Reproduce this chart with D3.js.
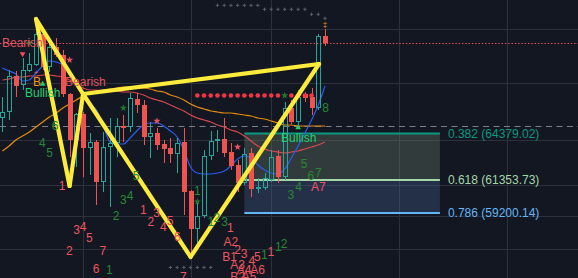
<!DOCTYPE html>
<html><head><meta charset="utf-8">
<script src="https://cdn.jsdelivr.net/npm/d3@7"></script>
<style>
html,body{margin:0;padding:0;background:#131722;overflow:hidden}
svg{display:block}
text{font-family:"Liberation Sans",Arial,sans-serif}
</style></head><body>
<svg id="c" width="578" height="278"></svg>
<script>
// ---- data ----
const opens=[65400,65790,68140,67550,68460,68850,70870,68720,70030,69500,66960,63960,65660,63440,63830,61220,63510,63770,64870,64810,66640,66240,64160,64420,63700,63440,63050,63830,60640,58160,59010,62920,63900,64030,63180,62330,61160,63110,60770,60830,61350,62920,61550,66050,65140,66960,66770,66050,70740];
const highs=[66770,68530,68460,69310,69630,71130,71130,70610,70610,69830,67030,65720,65790,64420,63960,64480,65400,65400,65590,67030,67030,66570,65140,64740,63960,64090,64090,64740,60700,60050,63310,64550,64610,65400,63770,62660,63440,63440,61480,61810,63310,63310,66440,66570,67220,67090,67350,70870,71200];
const lows=[64480,65270,66770,67220,68400,68790,68530,68400,69370,66770,62850,62200,61550,61680,59720,60570,59590,62850,63830,64480,65720,63640,62790,63310,62460,62460,61810,59070,56400,56790,58880,62660,63180,62850,62010,60570,61030,60250,60510,60700,61220,61160,61350,65010,64940,66440,65590,65920,70090];
const closes=[65790,68140,67480,68530,68920,70870,68720,70030,69500,66960,63960,65660,63440,63830,61220,63510,63770,64870,64740,66700,66240,64160,64420,63640,63380,63050,63770,60570,58160,59010,62920,63900,64030,63110,62270,61160,63050,60770,60900,61480,62850,61550,66050,65140,66770,66700,66050,70740,70290];
const maFast=[68656,68461,68265,67809,67874,68330,68787,69113,69048,68852,68330,67613,66896,66309,65918,64940,63832,63701,63701,64092,64549,64940,65070,65070,64875,64549,64158,63310,62201,61810,61745,61745,61810,61941,62267,62723,62919,62788,62332,62006,61810,61745,62071,62788,63571,64418,65266,66244,67483];
const maMid=[67874,67939,68070,68070,68135,68135,68200,68200,68135,68070,67874,67613,67352,67222,67222,67157,67157,67157,67092,67092,67026,66896,66700,66570,66440,66244,66048,65853,65592,65396,65266,65136,64940,64810,64614,64484,64223,63897,63571,63375,63245,63180,63114,63180,63245,63375,63506,63636,63832];
const maSlow=[63245,63571,63962,64223,64484,64810,65136,65462,65722,66048,66309,66570,66831,67026,67157,67222,67287,67352,67417,67417,67352,67352,67287,67157,67092,66896,66766,66570,66309,66114,65983,65853,65788,65722,65722,65657,65592,65527,65396,65331,65201,65070,64940,64940,64875,64875,64875,64875,64875];
// harmonic pattern X A B C D (candle index, price)
const patIdx=[5,10,12,28,47.1];
const patPrice=[71851,60963,66961,56334,68917];
const patLegs=[[0,1],[1,2],[2,3],[3,4],[0,2],[2,4]];
// fibonacci
const fibRatios=["0.382","0.618","0.786"];
const fibPrices=[64379.02,61353.73,59200.14];
const fibStart=36, fibEnd=65.1;
// grid
const gridPrices=[71199,67678,63962,61028,59007,56855];
const gridIdx=[12,28.07,39.97,59,75.1];
const lastPrice=70290, pivotPrice=64875;
// markers
const dotIdx=[29,30,31,32,33,34,35,36,37,38,39,40,41,43,44,45,46];
const dotPrice=66863;
const plusIdx=[32,33,34,35,36,37,38,39,40,41,42,43,44,45,46,47,48,25,26,27,28,29,30,31];
const plusPrice=[72744,72744,72744,72744,72744,72744,72744,72484,72484,72484,72484,72484,72484,72484,72158,72158,71897,55649,55649,55649,55649,55649,55649,55649];
const redStarIdx=[10,23,35], redStarPrice=[69178,65201,63506];
const greenStarIdx=[4,18,29,42], greenStarPrice=[70286,66048,59939,66863];
const downTriIdx=[3], downTriPrice=[69569];
const upTriIdx=[6,44], upTriPrice=[67613,64777];
// signal labels
const signalText=["Bearish","B","Bullish","Bearish","Bullish"];
const signalIdx=[-0.06,4.55,3.36,9.32,41.46];
const signalPrice=[70286,67776,66994,67711,64092];
// count labels
const greenText=["6","4","5","5","3","4","2","1","1","1","2","3","3","4","5","6","7","8","1","1","2"];
const greenIdx=[7.83,5.95,7.01,19.9,18.0,19.0,16.9,15.9,29.0,31.0,31.9,33.05,42.9,44.06,44.9,45.9,47.0,48.1,38.97,41.06,41.9];
const greenPrice=[64875,63766,63114,61615,60050,60280,59007,55486,60637,58612,58876,58612,60376,60917,62377,61634,61830,66029,56464,56953,57181];
const redText=["1","3","4","5","2","7","6","1","2","3","4","5","6","7","1","A2","2","B1","3","A3","4","5","A4","A6","B2","A5","1","A7"];
const redIdx=[8.87,11.03,12.0,12.93,9.96,14.93,13.93,20.97,22.07,22.96,23.94,24.94,26.03,26.92,33.91,34.0,34.99,33.8,35.95,34.99,37.1,37.93,35.95,37.96,34.99,36.7,39.93,47.0];
const redPrice=[60930,58094,58290,57553,56744,56744,55532,59398,58616,59203,58290,58681,57657,55030,58205,57292,56790,56353,56529,55812,56073,56353,55486,55486,55030,55030,56679,60917];

// ---- scales ----
const W=578,H=278;
const svg=d3.select("#c");
const x=d3.scaleLinear().domain([0,48]).range([2.4,325]);
const y=d3.scaleLinear().domain([55000,73000]).range([277.4,1.4]);
const px=v=>Math.round(v)+0.5;

// grid
const grid=svg.append("g").attr("stroke","#2d313c").attr("stroke-width",1).attr("shape-rendering","crispEdges");
gridPrices.forEach(p=>grid.append("line").attr("x1",0).attr("x2",W).attr("y1",px(y(p))).attr("y2",px(y(p))));
gridIdx.forEach(i=>grid.append("line").attr("y1",0).attr("y2",H).attr("x1",px(x(i))).attr("x2",px(x(i))));

// fib box
const fx0=x(fibStart), fx1=x(fibEnd);
const bandFill=["rgba(112,128,108,0.34)","rgba(70,102,152,0.32)"];
for(let k=0;k<2;k++){
  svg.append("rect").attr("x",fx0).attr("width",fx1-fx0)
    .attr("y",y(fibPrices[k])).attr("height",y(fibPrices[k+1])-y(fibPrices[k]))
    .attr("fill",bandFill[k]);
}
// price lines
svg.append("line").attr("x1",0).attr("x2",W).attr("y1",px(y(pivotPrice))).attr("y2",px(y(pivotPrice)))
  .attr("stroke","#7c7f88").attr("stroke-width",1).attr("stroke-dasharray","6,4.5");
svg.append("line").attr("x1",0).attr("x2",W).attr("y1",px(y(lastPrice))).attr("y2",px(y(lastPrice)))
  .attr("stroke","#f0525c").attr("stroke-width",1).attr("stroke-dasharray","1.4,1.9");

const fibColors=["#089981","#a5d6a7","#64b5f6"];
fibPrices.forEach((p,k)=>{
  svg.append("line").attr("x1",fx0).attr("x2",fx1).attr("y1",y(p)).attr("y2",y(p))
    .attr("stroke",fibColors[k]).attr("stroke-width",2);
  svg.append("text").attr("x",fx1+8).attr("y",y(p)).attr("dominant-baseline","central")
    .attr("font-size",12).attr("fill",fibColors[k])
    .text(fibRatios[k]+" ("+p.toFixed(2)+")");
});

// moving averages
const idx=d3.range(opens.length);
const mkLine=arr=>d3.line().x(i=>x(i)).y(i=>y(arr[i])).curve(d3.curveMonotoneX)(idx);
[[maSlow,"#e68a0c"],[maMid,"#d9474f"],[maFast,"#2a5cf0"]].forEach(([a,c])=>{
  svg.append("path").attr("d",mkLine(a)).attr("fill","none").attr("stroke",c).attr("stroke-width",1.2);
});

// candles
const cg=svg.append("g").attr("shape-rendering","crispEdges");
idx.forEach(i=>{
  const o=opens[i],c=closes[i],h=highs[i],l=lows[i];
  const up=c>=o, col=up?"#26a69a":"#ef5350";
  const cx=Math.round(x(i));
  const top=Math.round(y(Math.max(o,c))), bot=Math.round(y(Math.min(o,c)));
  cg.append("line").attr("x1",cx+0.5).attr("x2",cx+0.5).attr("y1",y(h)).attr("y2",top).attr("stroke",col);
  cg.append("line").attr("x1",cx+0.5).attr("x2",cx+0.5).attr("y1",bot).attr("y2",y(l)).attr("stroke",col);
  const hgt=Math.max(1,bot-top);
  if(up){
    cg.append("rect").attr("x",cx-2+0.5-0.5+0.5).attr("y",top+0.5).attr("width",4).attr("height",Math.max(0,hgt-1))
      .attr("fill","none").attr("stroke",col).attr("stroke-width",1);
  } else {
    cg.append("rect").attr("x",cx-2).attr("y",top).attr("width",5).attr("height",hgt).attr("fill",col);
  }
});

// dots & pluses
dotIdx.forEach(i=>svg.append("circle").attr("cx",x(i)).attr("cy",y(dotPrice)).attr("r",2.3).attr("fill","#f23645"));
plusIdx.forEach((i,k)=>{
  const cx=x(i), cy=y(plusPrice[k]);
  svg.append("path").attr("d",`M${cx-1.7},${cy}H${cx+1.7}M${cx},${cy-1.7}V${cy+1.7}`)
    .attr("stroke","#5a5e69").attr("stroke-width",1);
});
const star=d3.symbol().type(d3.symbolStar).size(16);
redStarIdx.forEach((i,k)=>svg.append("path").attr("d",star()).attr("transform",`translate(${x(i)},${y(redStarPrice[k])})`).attr("fill","#f05060"));
greenStarIdx.forEach((i,k)=>svg.append("path").attr("d",star()).attr("transform",`translate(${x(i)},${y(greenStarPrice[k])})`).attr("fill","#1f7a2e"));
const tri=d3.symbol().type(d3.symbolTriangle).size(14);
upTriIdx.forEach((i,k)=>svg.append("path").attr("d",tri()).attr("transform",`translate(${x(i)},${y(upTriPrice[k])})`).attr("fill","#1fd06a"));
downTriIdx.forEach((i,k)=>svg.append("path").attr("d",tri()).attr("transform",`translate(${x(i)},${y(downTriPrice[k])}) rotate(180)`).attr("fill","#f05060"));
// small markers
svg.append("text").attr("x",x(48)).attr("y",y(71525)).attr("text-anchor","middle").attr("dominant-baseline","central")
  .attr("font-size",8).attr("fill","#f59a23").text("‡");
svg.append("text").attr("x",x(5)).attr("y",y(68350)).attr("text-anchor","middle").attr("dominant-baseline","central")
  .attr("font-size",8).attr("fill","#e0606a").text("+");

// harmonic pattern
const pg=svg.append("g").attr("stroke","#ffeb3b").attr("stroke-width",4.2).attr("stroke-linecap","round").attr("fill","none");
patLegs.forEach(([a,b])=>pg.append("line")
  .attr("x1",x(patIdx[a])).attr("y1",y(patPrice[a])).attr("x2",x(patIdx[b])).attr("y2",y(patPrice[b])));

// signal labels
const sigColors=["#e0555f","#f5930f","#22d06c","#e0555f","#22d06c"];
signalText.forEach((t,k)=>svg.append("text").attr("x",x(signalIdx[k])).attr("y",y(signalPrice[k]))
  .attr("dominant-baseline","central").attr("font-size",12).attr("fill",sigColors[k]).text(t));
// count labels
greenText.forEach((t,k)=>svg.append("text").attr("x",x(greenIdx[k])).attr("y",y(greenPrice[k]))
  .attr("text-anchor","middle").attr("dominant-baseline","central").attr("font-size",12).attr("fill","#258a33").text(t));
redText.forEach((t,k)=>svg.append("text").attr("x",x(redIdx[k])).attr("y",y(redPrice[k]))
  .attr("text-anchor","middle").attr("dominant-baseline","central").attr("font-size",12).attr("fill","#ee5560").text(t));
</script>
</body></html>
